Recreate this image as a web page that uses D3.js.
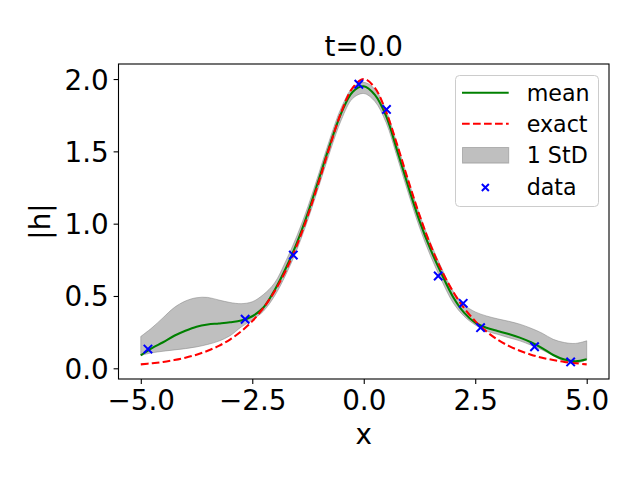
<!DOCTYPE html>
<html>
<head>
<meta charset="utf-8">
<script src="https://cdn.jsdelivr.net/npm/d3@7"></script>
<style>
  body { margin: 0; background: #fff; }
  svg { display: block; font-family: "DejaVu Sans", sans-serif; }
</style>
</head>
<body>
<svg id="chart" width="640" height="480"></svg>
<script>
// ---- data ----
const xGrid = [-5, -4.75, -4.5, -4.25, -4, -3.75, -3.5, -3.25, -3, -2.75, -2.5, -2.25, -2, -1.75, -1.5, -1.25, -1, -0.75, -0.5, -0.25, 0,
               0.25, 0.5, 0.75, 1, 1.25, 1.5, 1.75, 2, 2.25, 2.5, 2.75, 3, 3.25, 3.5, 3.75, 4, 4.25, 4.5, 4.75, 5];
const meanVals = [0.09, 0.14, 0.18, 0.225, 0.26, 0.288, 0.303, 0.31, 0.318, 0.33, 0.36, 0.42, 0.54, 0.69, 0.867, 1.077, 1.314, 1.554, 1.768, 1.911, 1.95,
                  1.89, 1.745, 1.505, 1.255, 1.02, 0.82, 0.65, 0.495, 0.385, 0.315, 0.28, 0.258, 0.237, 0.212, 0.18, 0.14, 0.092, 0.06, 0.048, 0.062];
const upperVals = [0.22, 0.28, 0.35, 0.42, 0.465, 0.488, 0.49, 0.472, 0.455, 0.447, 0.46, 0.51, 0.59, 0.74, 0.915, 1.12, 1.355, 1.595, 1.805, 1.94, 1.977,
                   1.93, 1.785, 1.55, 1.30, 1.065, 0.865, 0.69, 0.535, 0.44, 0.39, 0.362, 0.342, 0.325, 0.305, 0.277, 0.243, 0.20, 0.178, 0.172, 0.19];
const lowerVals = [0.09, 0.107, 0.118, 0.127, 0.136, 0.148, 0.165, 0.188, 0.225, 0.285, 0.335, 0.395, 0.50, 0.645, 0.82, 1.03, 1.265, 1.505, 1.72, 1.865, 1.90,
                   1.845, 1.70, 1.46, 1.21, 0.975, 0.775, 0.605, 0.455, 0.36, 0.30, 0.258, 0.235, 0.212, 0.19, 0.16, 0.127, 0.087, 0.05, 0.035, 0.06];
const exactVals = [0.027, 0.035, 0.044, 0.057, 0.073, 0.094, 0.121, 0.155, 0.199, 0.255, 0.326, 0.417, 0.532, 0.675, 0.850, 1.059, 1.296, 1.545, 1.774, 1.939, 2.0,
                   1.939, 1.774, 1.545, 1.296, 1.059, 0.850, 0.675, 0.532, 0.417, 0.326, 0.255, 0.199, 0.155, 0.121, 0.094, 0.073, 0.057, 0.044, 0.035, 0.027];
const dataX = [-4.84, -2.66, -1.58, -0.11, 0.51, 1.67, 2.23, 2.62, 3.83, 4.64];
const dataY = [0.133, 0.339, 0.783, 1.964, 1.79, 0.638, 0.449, 0.281, 0.149, 0.044];
const xTicks = [-5, -2.5, 0, 2.5, 5];
const yTicks = [0, 0.5, 1, 1.5, 2];
const legendLabels = ["mean", "exact", "1 StD", "data"];
const titleText = "t=0.0";

// ---- layout ----
const svg = d3.select("#chart");
const L = 118.5, R = 609, T = 64, B = 379;
const x = d3.scaleLinear().domain([-5.5, 5.5]).range([L, R]);
const y = d3.scaleLinear().domain([-0.074, 2.104]).range([B, T]);
const fontSize = 27.8;

const curve = d3.curveCatmullRom.alpha(0.5);
const idx = xGrid.map((_, i) => i);

// band
const area = d3.area().x(i => x(xGrid[i])).y0(i => y(lowerVals[i])).y1(i => y(upperVals[i])).curve(curve);
svg.append("path").attr("d", area(idx))
  .attr("fill", "gray").attr("fill-opacity", 0.5)
  .attr("stroke", "gray").attr("stroke-opacity", 0.5).attr("stroke-width", 1);

// mean
const meanLine = d3.line().x(i => x(xGrid[i])).y(i => y(meanVals[i])).curve(curve);
svg.append("path").attr("d", meanLine(idx))
  .attr("fill", "none").attr("stroke", "green").attr("stroke-width", 2.08);

// exact
const exactLine = d3.line().x(i => x(xGrid[i])).y(i => y(exactVals[i])).curve(curve);
svg.append("path").attr("d", exactLine(idx))
  .attr("fill", "none").attr("stroke", "red").attr("stroke-width", 2.08)
  .attr("stroke-dasharray", "7.7,3.3");

// data markers
const ms = 4.2;
function xMark(g, cx, cy) {
  g.append("path")
    .attr("d", `M${cx - ms},${cy - ms}L${cx + ms},${cy + ms}M${cx - ms},${cy + ms}L${cx + ms},${cy - ms}`)
    .attr("stroke", "blue").attr("stroke-width", 2).attr("fill", "none");
}
const mg = svg.append("g");
dataX.forEach((d, i) => xMark(mg, x(d), y(dataY[i])));

// axes
const xAxis = d3.axisBottom(x).tickValues(xTicks).tickFormat(d3.format(".1f")).tickSizeOuter(0).tickSize(4.9).tickPadding(4.9);
const yAxis = d3.axisLeft(y).tickValues(yTicks).tickFormat(d3.format(".1f")).tickSizeOuter(0).tickSize(4.9).tickPadding(4.9);
const gx = svg.append("g").attr("transform", `translate(0,${B})`).call(xAxis);
const gy = svg.append("g").attr("transform", `translate(${L},0)`).call(yAxis);
[gx, gy].forEach(g => {
  g.select(".domain").remove();
  g.selectAll(".tick line").attr("stroke", "#000").attr("stroke-width", 1.1);
  g.selectAll(".tick text").attr("font-size", fontSize).attr("font-family", "DejaVu Sans").attr("fill", "#000");
});
gx.selectAll(".tick text").attr("dy", "0.76em");
gy.selectAll(".tick text").attr("dy", "0.36em");

// spines
svg.append("rect").attr("x", L).attr("y", T).attr("width", R - L).attr("height", B - T)
  .attr("fill", "none").attr("stroke", "#000").attr("stroke-width", 1.1);

// labels
svg.append("text").attr("x", (L + R) / 2).attr("y", 56).attr("text-anchor", "middle")
  .attr("font-size", fontSize).text(titleText);
svg.append("text").attr("x", (L + R) / 2).attr("y", 444).attr("text-anchor", "middle")
  .attr("font-size", fontSize).text("x");
svg.append("text").attr("transform", `translate(50,${(T + B) / 2}) rotate(-90)`).attr("text-anchor", "middle")
  .attr("font-size", fontSize).text("|h|");

// legend
const lg = svg.append("g");
lg.append("rect").attr("x", 455.5).attr("y", 75.5).attr("width", 143).attr("height", 131).attr("rx", 4)
  .attr("fill", "#fff").attr("fill-opacity", 0.8).attr("stroke", "#cccccc").attr("stroke-width", 1);
const rowY = [92.7, 123.8, 155.3, 187.5];
const sx0 = 462, sx1 = 508.7, tx = 526.7, lfs = 22.2;
lg.append("line").attr("x1", sx0).attr("x2", sx1).attr("y1", rowY[0]).attr("y2", rowY[0])
  .attr("stroke", "green").attr("stroke-width", 2.08);
lg.append("line").attr("x1", sx0).attr("x2", sx1).attr("y1", rowY[1]).attr("y2", rowY[1])
  .attr("stroke", "red").attr("stroke-width", 2.08).attr("stroke-dasharray", "7.7,3.3");
lg.append("rect").attr("x", sx0 + 0.5).attr("y", rowY[2] - 7.8).attr("width", sx1 - sx0 - 0.5).attr("height", 15.6)
  .attr("fill", "gray").attr("fill-opacity", 0.5).attr("stroke", "gray").attr("stroke-opacity", 0.5).attr("stroke-width", 1);
const lms = 3.5;
const cx = (sx0 + sx1) / 2, cy = rowY[3];
lg.append("path").attr("d", `M${cx - lms},${cy - lms}L${cx + lms},${cy + lms}M${cx - lms},${cy + lms}L${cx + lms},${cy - lms}`)
  .attr("stroke", "blue").attr("stroke-width", 2);
legendLabels.forEach((t, i) => {
  lg.append("text").attr("x", tx).attr("y", rowY[i]).attr("dy", "0.36em")
    .attr("font-size", lfs).attr("fill", "#000").text(t);
});
</script>
</body>
</html>
